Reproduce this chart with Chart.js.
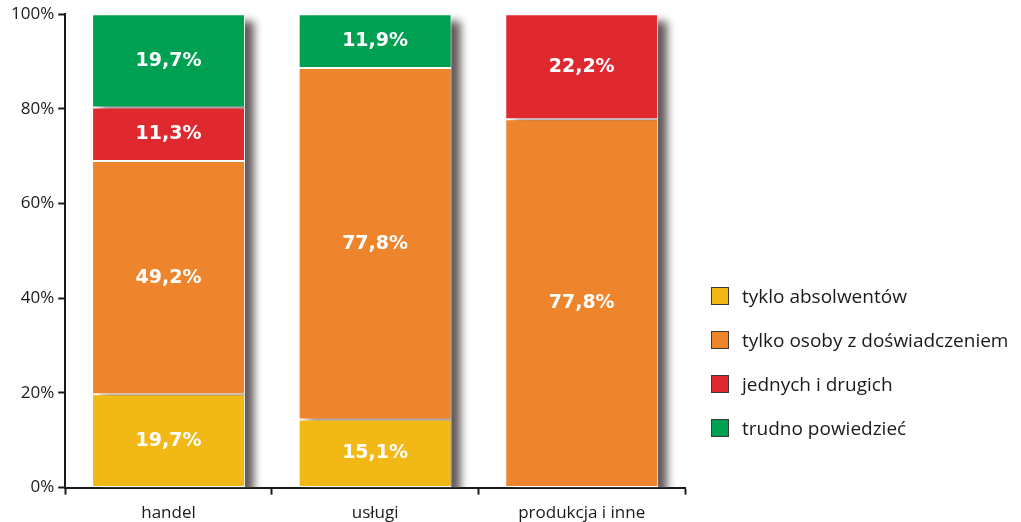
<!DOCTYPE html>
<html>
<head>
<meta charset="utf-8">
<script src="https://cdn.jsdelivr.net/npm/chart.js@4/dist/chart.umd.min.js"></script>
<style>
  body { margin: 0; background: #fff; }
  #wrap { position: relative; width: 1021px; height: 522px; }
  #legend { position: absolute; left: 711px; top: 274px; font: 19px "Open Sans", sans-serif; color: #1a1a1a; }
  .item { display: flex; align-items: center; height: 44px; }
  .box { width: 16px; height: 16px; border: 1.5px solid #3a3a3a; margin-right: 13px; }
</style>
</head>
<body>
<div id="wrap">
  <canvas id="chart" width="1021" height="522"></canvas>
  <div id="legend"></div>
</div>
<script>
const categories = ['handel', 'usługi', 'produkcja i inne'];
const seriesNames = ['tyklo absolwentów', 'tylko osoby z doświadczeniem', 'jednych i drugich', 'trudno powiedzieć'];
const absolwenci = [19.7, 15.1, 0];
const doswiadczeni = [49.2, 77.8, 77.8];
const jedniIDrudzy = [11.3, 0, 22.2];
const trudno = [19.7, 11.9, 0];
const yTicks = [0, 20, 40, 60, 80, 100];
const colors = ['#f2b916', '#ee842b', '#e0292e', '#00a052'];

const series = [absolwenci, doswiadczeni, jedniIDrudzy, trudno];
const totals = categories.map((c, j) => series.reduce((s, arr) => s + arr[j], 0));

const axisColor = '#1a1a1a';
const family = '"Open Sans", sans-serif';

// grey blurred shadow behind each stacked bar, shifted right/down
const barShadow = {
  id: 'barShadow',
  beforeDatasetsDraw(chart) {
    const ctx = chart.ctx;
    const area = chart.chartArea;
    const metas = chart.getSortedVisibleDatasetMetas();
    ctx.save();
    ctx.beginPath();
    ctx.rect(area.left, area.top - 10, area.right - area.left + 30, area.bottom - area.top + 10);
    ctx.clip();
    ctx.filter = 'blur(4px)';
    ctx.fillStyle = 'rgba(90,80,80,0.95)';
    categories.forEach((c, j) => {
      let top = Infinity, bottom = -Infinity, x = 0, w = 0;
      metas.forEach(m => {
        const p = m.data[j].getProps(['x', 'y', 'base', 'width'], true);
        top = Math.min(top, p.y, p.base);
        bottom = Math.max(bottom, p.y, p.base);
        x = p.x; w = p.width;
      });
      ctx.fillRect(x - w / 2 + 9, top + 7, w, bottom - top);
    });
    ctx.restore();
  }
};

const segmentLabels = {
  id: 'segmentLabels',
  afterDatasetsDraw(chart) {
    const ctx = chart.ctx;
    ctx.save();
    ctx.font = 'bold 19px "DejaVu Sans", sans-serif';
    ctx.fillStyle = '#fff';
    ctx.textAlign = 'center';
    ctx.textBaseline = 'middle';
    chart.data.datasets.forEach((ds, i) => {
      chart.getDatasetMeta(i).data.forEach((bar, j) => {
        const v = series[i][j];
        if (!v) return;
        const p = bar.getProps(['x', 'y', 'base'], true);
        ctx.fillText(v.toFixed(1).replace('.', ',') + '%', p.x, (p.y + p.base) / 2);
      });
    });
    ctx.restore();
  }
};

new Chart(document.getElementById('chart'), {
  type: 'bar',
  data: {
    labels: categories,
    datasets: series.map((arr, i) => ({
      label: seriesNames[i],
      data: arr.map((v, j) => v / totals[j] * 100),
      backgroundColor: colors[i],
      borderColor: '#fff',
      borderWidth: 1,
      borderSkipped: false,
      categoryPercentage: 1,
      barPercentage: 0.74
    }))
  },
  options: {
    responsive: false,
    animation: false,
    layout: { padding: { left: 7, right: 336, top: 14, bottom: -9 } },
    plugins: {
      legend: { display: false },
      tooltip: { enabled: false }
    },
    scales: {
      x: {
        stacked: true,
        ticks: { color: axisColor, font: { family, size: 17 }, padding: 8 },
        grid: { offset: true, drawOnChartArea: false, tickLength: 7, color: axisColor, tickWidth: 2 },
        border: { color: axisColor, width: 2 }
      },
      y: {
        stacked: true,
        min: 0,
        max: 100,
        afterBuildTicks: axis => { axis.ticks = yTicks.map(v => ({ value: v })); },
        ticks: { color: axisColor, font: { family, size: 17 }, padding: 4, callback: v => v + '%' },
        grid: { drawOnChartArea: false, tickLength: 7, color: axisColor, tickWidth: 2 },
        border: { color: axisColor, width: 2 }
      }
    }
  },
  plugins: [barShadow, segmentLabels]
});

document.getElementById('legend').innerHTML = seriesNames.map((n, i) =>
  `<div class="item"><span class="box" style="background:${colors[i]}"></span>${n}</div>`
).join('');
</script>
</body>
</html>
